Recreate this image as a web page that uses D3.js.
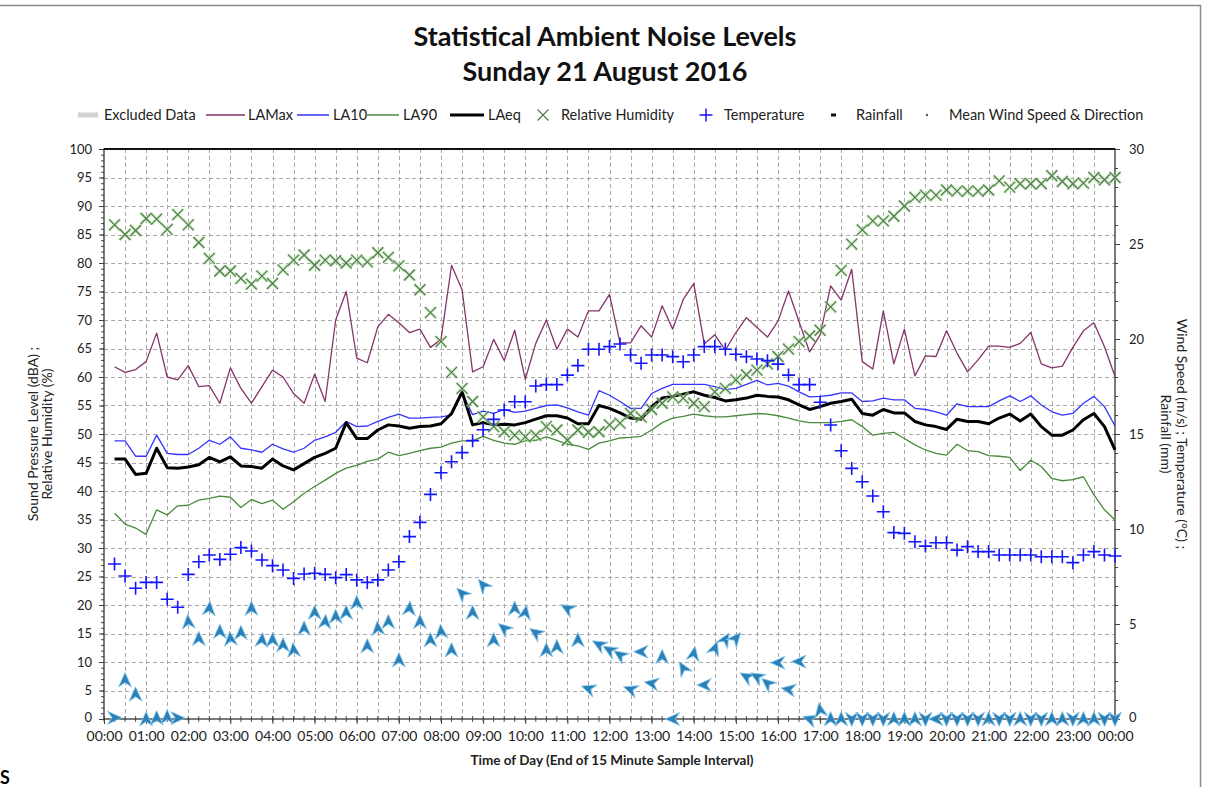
<!DOCTYPE html>
<html>
<head>
<meta charset="utf-8">
<script src="https://cdn.jsdelivr.net/npm/d3@7"></script>
<style>
  body { margin: 0; background: #fff; }
  text { font-family: Lato, 'Open Sans', sans-serif; fill: #222; }
</style>
</head>
<body>
<script>

// 15 minute samples, end of interval, 00:15 .. 24:00
const sampleStart = new Date(2016, 7, 21, 0, 15)
const sampleEnd = new Date(2016, 7, 22, 0, 15)
const times = d3.timeMinute.every(15).range(sampleStart, sampleEnd)

const laMax = [
  61.8, 60.8, 61.3, 62.7, 67.7, 60.0, 59.5, 62.0, 58.3, 58.5, 55.4, 61.6, 58.0, 55.4, 58.3, 61.2, 60.0, 57.1, 55.4, 60.5, 55.7, 70.0, 75.0, 63.3,
  62.5, 68.8, 71.0, 69.5, 67.8, 68.4, 65.2, 66.6, 79.6, 75.3, 60.9, 61.8, 66.6, 62.9, 68.2, 59.6, 65.9, 70.0, 64.9, 68.4, 67.0, 71.6, 71.6,
  74.5, 66.0, 66.0, 69.0, 67.0, 72.5, 68.4, 73.6, 76.4, 65.8, 67.4, 64.7, 67.8, 70.4, 68.7, 67.0, 69.8, 75.1, 69.7, 64.4, 67.4, 76.0, 73.5,
  78.9, 62.7, 61.4, 71.6, 62.3, 68.4, 60.2, 63.7, 63.6, 68.1, 64.2, 60.9, 63.0, 65.4, 65.4, 65.2, 65.9, 67.8, 62.3, 61.6, 61.9, 65.2, 68.1, 69.5, 65.3, 60.1
]
const la10 = [
  48.8, 48.8, 46.1, 46.1, 49.8, 46.6, 46.4, 46.4, 47.5, 48.9, 48.2, 49.5, 47.5, 47.2, 46.8, 48.2, 47.4, 46.8, 47.5, 48.9, 49.5, 50.3, 52.2, 51.3,
  51.4, 52.2, 52.9, 53.5, 52.8, 52.8, 52.9, 53.0, 53.3, 57.2, 53.4, 54.0, 53.6, 54.3, 53.8, 54.0, 54.5, 55.0, 55.1, 54.6, 53.9, 53.3, 57.6,
  56.8, 55.7, 54.5, 54.5, 57.1, 58.0, 58.7, 58.7, 58.7, 58.7, 58.3, 57.8, 58.0, 58.7, 59.4, 58.6, 58.9, 58.4, 57.4, 56.5, 56.6, 56.8, 57.2,
  57.2, 55.7, 55.8, 56.3, 56.0, 56.0, 54.5, 54.3, 53.9, 53.3, 55.3, 54.8, 54.8, 54.8, 55.8, 56.7, 55.7, 56.7, 55.1, 53.9, 53.3, 53.6, 55.4, 56.6, 54.8, 51.4
]
const la90 = [
  36.1, 34.2, 33.5, 32.4, 36.7, 35.8, 37.4, 37.5, 38.4, 38.7, 39.1, 38.9, 37.1, 38.5, 37.8, 38.4, 36.8, 38.1, 39.6, 40.8, 41.9, 43.1, 44.0, 44.5,
  45.2, 45.6, 46.8, 46.2, 46.6, 47.1, 47.5, 47.7, 48.4, 48.8, 48.8, 49.6, 48.9, 48.4, 48.2, 48.8, 48.9, 49.5, 48.9, 48.2, 47.9, 47.3, 48.4,
  48.8, 49.3, 49.4, 49.6, 50.7, 52.0, 52.8, 53.1, 53.5, 53.2, 53.0, 53.0, 53.2, 53.4, 53.6, 53.5, 53.2, 52.8, 52.3, 52.0, 52.0, 52.0, 52.2,
  52.5, 51.3, 49.8, 50.1, 50.3, 49.2, 48.1, 47.2, 46.6, 46.3, 48.2, 47.1, 46.9, 46.2, 46.1, 45.9, 43.6, 45.4, 44.3, 42.2, 41.8, 42.0, 42.5, 39.3, 36.7, 34.9
]
const laEq = [
  45.6, 45.6, 42.9, 43.1, 47.5, 44.1, 44.0, 44.2, 44.6, 45.9, 45.1, 46.0, 44.4, 44.3, 44.0, 45.6, 44.4, 43.7, 44.8, 45.9, 46.6, 47.5, 52.0, 49.2,
  49.2, 50.7, 51.6, 51.4, 51.0, 51.3, 51.4, 51.8, 53.6, 57.4, 51.6, 52.0, 51.6, 51.7, 51.6, 52.0, 52.6, 53.2, 53.2, 52.8, 51.8, 51.8, 55.0,
  54.5, 53.7, 52.8, 52.6, 54.8, 56.3, 56.6, 57.0, 57.4, 56.8, 56.4, 55.8, 56.0, 56.3, 56.8, 56.6, 56.5, 56.0, 55.1, 54.3, 54.8, 55.4, 55.7,
  56.1, 53.6, 53.3, 54.3, 53.7, 53.7, 52.2, 51.6, 51.3, 50.8, 52.6, 52.2, 52.2, 51.8, 52.8, 53.5, 52.3, 53.5, 51.3, 49.8, 49.8, 50.7, 52.5, 53.6, 51.3, 47.2
]
const humidity = [
  86.7, 85.0, 85.7, 87.8, 87.7, 85.9, 88.5, 86.7, 83.6, 80.8, 78.6, 78.6, 77.3, 76.3, 77.7, 76.4, 78.8, 80.5, 81.4, 79.6, 80.5, 80.4, 80.0, 80.5,
  80.2, 81.8, 81.0, 79.5, 77.9, 75.3, 71.3, 66.2, 60.8, 58.0, 55.7, 53.0, 51.3, 50.4, 49.8, 49.5, 49.8, 51.3, 50.7, 48.9, 50.7, 50.3, 50.4,
  51.6, 51.9, 53.6, 53.0, 54.3, 55.4, 56.5, 56.3, 55.4, 54.8, 57.4, 58.0, 59.5, 60.4, 61.2, 62.3, 63.6, 64.9, 66.2, 67.2, 68.2, 72.3, 78.7,
  83.3, 85.8, 87.4, 87.4, 88.2, 90.0, 91.5, 91.9, 91.9, 92.8, 92.6, 92.6, 92.6, 92.8, 94.4, 93.3, 93.9, 93.9, 93.9, 95.3, 94.3, 93.9, 94.0, 95.0, 94.6, 95.0
]
const temperature = [
  8.16, 7.53, 6.88, 7.19, 7.19, 6.30, 5.88, 7.61, 8.28, 8.63, 8.40, 8.67, 9.02, 8.84, 8.37, 8.07, 7.84, 7.40, 7.63, 7.67, 7.61, 7.44, 7.60, 7.32,
  7.19, 7.32, 7.84, 8.28, 9.60, 10.35, 11.82, 12.96, 13.54, 14.02, 14.65, 15.22, 15.77, 16.26, 16.70, 16.70, 17.53, 17.60, 17.60, 18.10, 18.60, 19.46, 19.46,
  19.60, 19.74, 19.16, 18.72, 19.16, 19.16, 19.07, 18.80, 19.16, 19.60, 19.60, 19.46, 19.20, 19.07, 18.95, 18.86, 18.68, 18.10, 17.60, 17.60, 16.67, 15.47, 14.12,
  13.19, 12.49, 11.74, 10.91, 9.81, 9.77, 9.33, 9.10, 9.28, 9.28, 8.89, 9.07, 8.81, 8.81, 8.63, 8.63, 8.63, 8.63, 8.54, 8.54, 8.54, 8.23, 8.63, 8.81, 8.63, 8.58
]
const windSpeed = [
  0.07, 2.05, 1.30, 0.00, 0.05, 0.10, 0.05, 5.12, 4.23, 5.82, 4.60, 4.23, 4.54, 5.82, 4.16, 4.16, 3.89, 3.63, 4.77, 5.60, 5.12, 5.39, 5.60, 6.12,
  3.84, 4.77, 5.12, 3.10, 5.82, 5.12, 4.16, 4.60, 3.63, 6.61, 5.60, 7.05, 4.16, 4.77, 5.82, 5.60, 4.54, 3.63, 3.80, 5.82, 4.16, 1.60, 3.92,
  3.63, 3.37, 1.56, 3.54, 1.88, 3.28, 0.00, 2.67, 3.44, 1.79, 3.72, 4.19, 4.25, 2.23, 2.23, 1.88, 2.96, 1.56, 3.02, 0.00, 0.47, 0.00, 0.00,
  0, 0, 0, 0, 0, 0, 0, 0, 0, 0, 0, 0, 0, 0, 0, 0, 0, 0, 0, 0, 0, 0, 0, 0, 0, 0
]
// direction the arrow points, degrees clockwise from up
const windDir = [
  90, 0, 0, 0, 0, 0, 90, 355, 0, 5, 0, 355, 0, 0, 5, 0, 0, 355, 0, 0, 5, 0, 0, 0,
  0, 355, 0, 0, 5, 0, 0, 355, 0, 315, 0, 320, 0, 310, 0, 10, 305, 0, 0, 300, 0, 290, 300,
  300, 305, 290, 270, 280, 0, 270, 330, 10, 270, 20, 30, 40, 300, 300, 310, 270, 280, 270, 290, 350, 0, 0,
  180, 180, 180, 180, 0, 0, 0, 180, 270, 180, 180, 180, 180, 0, 180, 180, 0, 180, 180, 0, 0, 180, 0, 0, 180, 180
]

const leftTicks = d3.range(0, 101, 5)
const rightTicks = d3.range(0, 31, 5)

const W = 1206, H = 787
const plot = { left: 104, right: 1115, top: 149, bottom: 719 }

const svg = d3.select('body').append('svg')
    .attr('width', W)
    .attr('height', H)

// outer frame lines of the original screenshot
svg.append('line').attr('x1', 0).attr('x2', 1201).attr('y1', 5.5).attr('y2', 5.5)
    .attr('stroke', '#8a8a8a').attr('stroke-width', 1.5)
svg.append('line').attr('x1', 1200.5).attr('x2', 1200.5).attr('y1', 5).attr('y2', H)
    .attr('stroke', '#8a8a8a').attr('stroke-width', 1.5)
svg.append('text').attr('x', 0).attr('y', 784)
    .style('font-size', '18px').style('font-weight', 'bold').style('fill', '#000').text('S')

const x = d3.scaleTime()
    .domain([new Date(2016, 7, 21, 0, 0), new Date(2016, 7, 22, 0, 0)])
    .range([plot.left, plot.right])
const yL = d3.scaleLinear().domain([0, 100]).range([plot.bottom, plot.top])
const yR = d3.scaleLinear().domain([0, 30]).range([plot.bottom, plot.top])

// title
svg.append('text').attr('x', 605).attr('y', 46).attr('text-anchor', 'middle')
    .style('font-size', '27px').style('font-weight', 'bold').style('fill', '#111')
    .text('Statistical Ambient Noise Levels')
svg.append('text').attr('x', 605).attr('y', 81).attr('text-anchor', 'middle')
    .style('font-size', '27px').style('font-weight', 'bold').style('fill', '#111')
    .text('Sunday 21 August 2016')

// grid
const grid = svg.append('g').attr('stroke', '#a8a8a8').attr('stroke-dasharray', '4,3').attr('stroke-width', 1)
grid.selectAll('line.h')
    .data(leftTicks.filter(d => d > 0 && d < 100))
    .join('line')
    .attr('x1', plot.left).attr('x2', plot.right)
    .attr('y1', d => Math.round(yL(d)) + 0.5).attr('y2', d => Math.round(yL(d)) + 0.5)
const halfHours = d3.timeMinute.every(30).range(new Date(2016, 7, 21, 0, 30), new Date(2016, 7, 22, 0, 0))
grid.selectAll('line.v')
    .data(halfHours)
    .join('line')
    .attr('x1', d => Math.round(x(d)) + 0.5).attr('x2', d => Math.round(x(d)) + 0.5)
    .attr('y1', plot.top).attr('y2', plot.bottom)

// axes
const axisStyle = size => g => {
    g.select('.domain').remove()
    g.selectAll('line').attr('stroke', '#444')
    g.selectAll('text').style('font-size', size).style('fill', '#222').style('font-family', 'Lato, sans-serif')
}

svg.append('g').attr('transform', `translate(${plot.left},0)`)
    .call(d3.axisLeft(yL).tickValues(d3.range(0, 101, 1)).tickSize(3).tickFormat(''))
    .call(axisStyle('13px'))
svg.append('g').attr('transform', `translate(${plot.left},0)`)
    .call(d3.axisLeft(yL).tickValues(leftTicks).tickSize(5).tickPadding(7))
    .call(axisStyle('13px'))
    .call(g => g.selectAll('text').filter(d => d === 0).attr('dy', '0.2em'))

svg.append('g').attr('transform', `translate(${plot.right},0)`)
    .call(d3.axisRight(yR).tickValues(d3.range(0, 31, 1)).tickSize(3).tickFormat(''))
    .call(axisStyle('13px'))
svg.append('g').attr('transform', `translate(${plot.right},0)`)
    .call(d3.axisRight(yR).tickValues(rightTicks).tickSize(5).tickPadding(9))
    .call(axisStyle('13px'))
    .call(g => g.selectAll('text').filter(d => d === 0).attr('dy', '0.2em'))

const quarterHours = d3.timeMinute.every(15).range(new Date(2016, 7, 21, 0, 0), new Date(2016, 7, 22, 0, 1))
svg.append('g').attr('transform', `translate(0,${plot.bottom})`)
    .selectAll('line')
    .data(quarterHours)
    .join('line')
    .attr('x1', d => x(d)).attr('x2', d => x(d))
    .attr('y1', -3).attr('y2', 3)
    .attr('stroke', '#555')
svg.append('g').attr('transform', `translate(0,${plot.bottom})`)
    .call(d3.axisBottom(x)
        .tickValues(d3.timeHour.every(1).range(new Date(2016, 7, 21, 0, 0), new Date(2016, 7, 22, 0, 1)))
        .tickFormat(d3.timeFormat('%H:%M'))
        .tickSize(5).tickPadding(7))
    .call(axisStyle('14px'))

// plot frame
svg.append('rect')
    .attr('x', plot.left).attr('y', plot.top)
    .attr('width', plot.right - plot.left).attr('height', plot.bottom - plot.top)
    .attr('fill', 'none').attr('stroke', '#333').attr('stroke-width', 1.3)
svg.append('line').attr('x1', plot.left).attr('x2', plot.right).attr('y1', plot.top).attr('y2', plot.top)
    .attr('stroke', '#111').attr('stroke-width', 2)

// axis titles
svg.append('text')
    .attr('transform', `translate(38,${(plot.top + plot.bottom) / 2}) rotate(-90)`)
    .attr('text-anchor', 'middle')
    .style('font-size', '14px')
    .selectAll('tspan')
    .data(['Sound Pressure Level (dBA) ;', 'Relative Humidity (%)'])
    .join('tspan')
    .attr('x', 0).attr('dy', (d, i) => i ? 14 : 0)
    .text(d => d)

svg.append('text')
    .attr('transform', `translate(1177,${(plot.top + plot.bottom) / 2}) rotate(90)`)
    .attr('text-anchor', 'middle')
    .style('font-size', '14px')
    .selectAll('tspan')
    .data(['Wind Speed (m/s) ; Temperature (\u00B0C) ;', 'Rainfall (mm)'])
    .join('tspan')
    .attr('x', 0).attr('dy', (d, i) => i ? 16 : 0)
    .text(d => d)

svg.append('text').attr('x', 612).attr('y', 765).attr('text-anchor', 'middle')
    .style('font-size', '13.5px').style('font-weight', 'bold')
    .text('Time of Day (End of 15 Minute Sample Interval)')

// noise series
const lineL = d3.line().x((d, i) => x(times[i])).y(d => yL(d))

const series = [
    { values: la90, color: '#4a8a3c', width: 1.3 },
    { values: la10, color: '#3535ff', width: 1.3 },
    { values: laMax, color: '#84356a', width: 1.3 },
    { values: laEq, color: '#000000', width: 3 }
]
svg.append('g').selectAll('path')
    .data(series)
    .join('path')
    .attr('d', d => lineL(d.values))
    .attr('fill', 'none')
    .attr('stroke', d => d.color)
    .attr('stroke-width', d => d.width)
    .attr('stroke-linejoin', 'round')

// relative humidity markers
const crossPath = s => `M${-s},${-s}L${s},${s}M${-s},${s}L${s},${-s}`
const rh = svg.append('g').selectAll('g')
    .data(humidity)
    .join('g')
    .attr('transform', (d, i) => `translate(${x(times[i])},${yL(d)})`)
rh.append('path').attr('d', crossPath(5.5))
    .attr('stroke', '#b6e3a8').attr('stroke-width', 3.5).attr('opacity', 0.55)
rh.append('path').attr('d', crossPath(5.5))
    .attr('stroke', '#4d7a48').attr('stroke-width', 1.2)

// temperature markers
svg.append('g').selectAll('path')
    .data(temperature)
    .join('path')
    .attr('transform', (d, i) => `translate(${x(times[i])},${yR(d)})`)
    .attr('d', 'M-6.5,0H6.5M0,-6.5V6.5')
    .attr('stroke', '#1414ff')
    .attr('stroke-width', 1.6)

// wind speed & direction arrows
const wind = svg.append('g').selectAll('g')
    .data(windSpeed)
    .join('g')
    .attr('transform', (d, i) => `translate(${x(times[i])},${yR(d)}) rotate(${windDir[i]})`)
wind.append('path')
    .attr('d', 'M0,-7.5L6.5,7L0,2.5L-6.5,7Z')
    .attr('fill', '#2a80b8')
    .attr('stroke', '#8cc8ea')
    .attr('stroke-width', 0.8)
    .attr('stroke-linejoin', 'round')

// legend
const legend = svg.append('g').attr('transform', 'translate(0,115)')
const legendText = (x0, label) => legend.append('text').attr('x', x0).attr('y', 5)
    .style('font-size', '14.5px').style('fill', '#222').text(label)

legend.append('line').attr('x1', 78).attr('x2', 98).attr('stroke', '#d2d2d2').attr('stroke-width', 5)
legendText(104, 'Excluded Data')
const legendLines = [
    { x1: 206, x2: 245, color: '#84356a', w: 1.5, label: 'LAMax', tx: 248 },
    { x1: 297, x2: 329, color: '#3535ff', w: 1.5, label: 'LA10', tx: 333 },
    { x1: 366, x2: 399, color: '#4a8a3c', w: 1.5, label: 'LA90', tx: 403 },
    { x1: 450, x2: 484, color: '#000000', w: 3, label: 'LAeq', tx: 488 }
]
legendLines.forEach(d => {
    legend.append('line').attr('x1', d.x1).attr('x2', d.x2)
        .attr('stroke', d.color).attr('stroke-width', d.w)
    legendText(d.tx, d.label)
})
legend.append('path').attr('transform', 'translate(543,0)').attr('d', crossPath(5.5))
    .attr('stroke', '#4d7a48').attr('stroke-width', 1.1)
legendText(561, 'Relative Humidity')
legend.append('path').attr('transform', 'translate(706,0)').attr('d', 'M-6.5,0H6.5M0,-6.5V6.5')
    .attr('stroke', '#1414ff').attr('stroke-width', 1.5)
legendText(724, 'Temperature')
legend.append('rect').attr('x', 831).attr('y', -1.5).attr('width', 5).attr('height', 3).attr('fill', '#111')
legendText(856, 'Rainfall')
legend.append('circle').attr('cx', 927).attr('cy', 0).attr('r', 1.2).attr('fill', '#555')
legendText(949, 'Mean Wind Speed & Direction')

</script>
</body>
</html>
